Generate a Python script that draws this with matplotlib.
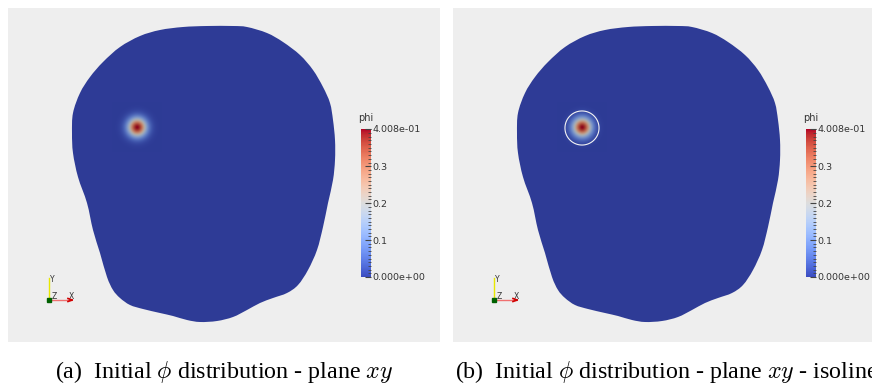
import numpy as np
import matplotlib
matplotlib.use("Agg")
import matplotlib.pyplot as plt
from matplotlib.patches import PathPatch
from matplotlib.path import Path
from matplotlib.colors import Normalize

plt.rcParams['mathtext.fontset'] = 'cm'

# domain outline (pixels, local to each grey panel)
outline_x = [199, 225, 239, 259, 275, 292, 305, 315, 322, 325, 327, 327, 325, 320,
             315, 309, 300, 290, 279, 265, 252, 239, 225, 209, 192, 179, 165, 152,
             135, 122, 112, 105, 99, 92, 85, 79, 70, 65, 64, 65, 72, 82, 95, 112,
             132, 152, 175]
outline_y = [18, 18, 19, 25, 34, 47, 62, 79, 95, 112, 132, 152, 172, 195,
             219, 242, 262, 277, 285, 290, 295, 302, 309, 313, 314, 312, 308, 305,
             301, 297, 290, 282, 269, 245, 222, 195, 169, 145, 125, 105, 85, 69,
             54, 39, 28, 22, 19]

# initial phi blob
phi_max = 0.4008
blob_x, blob_y = 129, 120
blob_sigma = 6.5
isoline_level = 0.013

# colorbar
cbar_title = "phi"
cbar_ticks = [0.0, 0.1, 0.2, 0.3, 0.4008]
cbar_labels = ["0.000e+00", "0.1", "0.2", "0.3", "4.008e-01"]

captions = [r"(a)  Initial $\phi$ distribution - plane $xy$",
            r"(b)  Initial $\phi$ distribution - plane $xy$ - isolines"]

W, H = 872, 385
fig = plt.figure(figsize=(W / 100, H / 100), dpi=100)
bg = "#eeeeee"
shade = 0.78
cmap = plt.get_cmap("coolwarm")
norm = Normalize(0, phi_max)


def smooth_path(xs, ys):
    # closed Catmull-Rom curve drawn with cubic Bezier segments
    p = np.column_stack([xs, ys]).astype(float)
    n = len(p)
    verts = [p[0]]
    codes = [Path.MOVETO]
    for i in range(n):
        p0, p1, p2, p3 = p[i - 1], p[i], p[(i + 1) % n], p[(i + 2) % n]
        verts += [p1 + (p2 - p0) / 6, p2 - (p3 - p1) / 6, p2]
        codes += [Path.CURVE4] * 3
    return Path(verts, codes)


panels = [(8, 432), (453, 419)]
for k, (px, pw) in enumerate(panels):
    ax = fig.add_axes([px / W, (H - 342) / H, pw / W, 334 / H])
    ax.set_xlim(0, pw)
    ax.set_ylim(334, 0)
    ax.set_facecolor(bg)
    ax.set_xticks([])
    ax.set_yticks([])
    for s in ax.spines.values():
        s.set_visible(False)

    body = PathPatch(smooth_path(outline_x, outline_y),
                     facecolor=np.array(cmap(0.0)[:3]) * shade,
                     edgecolor="none", zorder=1)
    ax.add_patch(body)

    # field around the blob
    gx = np.arange(blob_x - 25, blob_x + 25, 0.5)
    gy = np.arange(blob_y - 25, blob_y + 25, 0.5)
    X, Y = np.meshgrid(gx, gy)
    phi = phi_max * np.exp(-((X - blob_x) ** 2 + (Y - blob_y) ** 2) / (2 * blob_sigma ** 2))
    rgb = cmap(norm(phi))[..., :3] * shade
    ax.imshow(rgb, extent=(gx[0], gx[-1], gy[-1], gy[0]), zorder=2,
              interpolation="bilinear")
    if k == 1:
        ax.contour(X, Y, phi, levels=[isoline_level], colors="#f4f4f4",
                   linewidths=0.8, zorder=3)

    # orientation triad
    ox, oy = 41, 292
    ax.plot([ox, ox], [oy, oy - 22], color="#e8e800", lw=1, zorder=4)
    ax.plot([ox, ox + 22], [oy, oy], color="#f07070", lw=1, zorder=4)
    ax.plot([ox + 19, ox + 23], [oy - 1.5, oy], color="#d00000", lw=1.2, zorder=4)
    ax.plot([ox + 19, ox + 23], [oy + 1.5, oy], color="#d00000", lw=1.2, zorder=4)
    ax.plot(ox, oy, "s", ms=3.2, color="#006000", zorder=5)
    ax.text(ox + 1, oy - 18, "Y", fontsize=5.5, color="#333333")
    ax.text(ox + 3, oy - 1, "Z", fontsize=5.5, color="#333333")
    ax.text(ox + 20, oy - 1, "X", fontsize=5.5, color="#333333")

    # colorbar
    cx = px + 353
    cax = fig.add_axes([cx / W, (H - 277) / H, 10 / W, 148 / H])
    sm = plt.cm.ScalarMappable(norm=norm, cmap=cmap)
    cb = fig.colorbar(sm, cax=cax)
    cb.outline.set_visible(False)
    cb.set_ticks(cbar_ticks)
    cb.set_ticklabels(cbar_labels)
    cb.ax.yaxis.set_minor_locator(matplotlib.ticker.MultipleLocator(0.01))
    cax.tick_params(axis="y", which="major", direction="in", length=4, width=0.8,
                    color="#444444", labelsize=6.8, labelcolor="#333333", pad=1)
    cax.tick_params(axis="y", which="minor", direction="in", length=2.5, width=0.6,
                    color="#444444")
    fig.text((cx - 3) / W, (H - 118) / H, cbar_title, fontsize=7, color="#333333",
             va="center")

fig.text(224 / W, (H - 372) / H, captions[0], fontsize=17.3, ha="center", va="center",
         family="Liberation Serif")
fig.text(455 / W, (H - 372) / H, captions[1], fontsize=17.3, ha="left", va="center",
         family="Liberation Serif")

fig.savefig("out.png", dpi=100, facecolor="white")
